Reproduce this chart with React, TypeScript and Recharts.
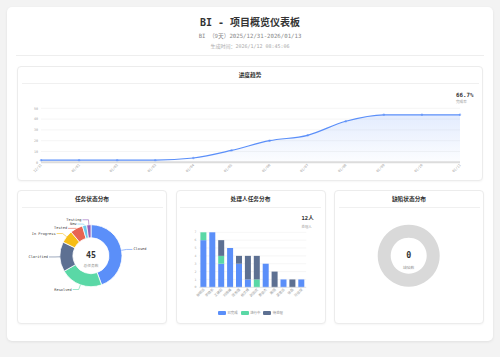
import React from 'react';
import { AreaChart, Area, XAxis, YAxis, CartesianGrid, BarChart, Bar, PieChart, Pie, Cell } from 'recharts';

const FONT = "'DejaVu Sans Mono', 'Noto Sans CJK SC', monospace";

// ---- data ----
const trendDates = ['12/31', '01/01', '01/02', '01/03', '01/04', '01/05', '01/06', '01/07', '01/08', '01/09', '01/10', '01/11'];
const trendValues = [2, 2, 2, 2, 4, 11, 20, 25, 38, 44, 44, 44];
const trendTicks = [0, 10, 20, 30, 40, 50];
const completionRate = '66.7%';

const statusNames = ['Closed', 'Resolved', 'Clarified', 'In Progress', 'Tested', 'New', 'Testing'];
const statusValues = [20, 10, 7, 3, 3, 1, 1];
const statusColors = ['#5b8ff9', '#5ad8a6', '#5d7092', '#f6bd16', '#e86452', '#6dc8ec', '#945fb9'];

const assignees = ['张明远', '李晓东', '王建国', '刘海峰', '陈志强', '杨文博', '赵国庆', '黄俊杰', '周丽', '吴思远', '徐磊', '孙佳琪'];
const doneValues = [6, 7, 3, 5, 3, 1, 0, 3, 0, 1, 0, 1];
const doingValues = [1, 0, 1, 0, 0, 0, 1, 0, 0, 0, 0, 0];
const todoValues = [0, 0, 2, 0, 1, 3, 3, 0, 2, 0, 1, 0];
const barTicks = [0, 1, 2, 3, 4, 5, 6, 7];
const seriesKeys = ['done', 'doing', 'todo'];
const seriesNames = ['已完成', '进行中', '待处理'];
const seriesColors = ['#5b8ff9', '#5ad8a6', '#5d7092'];

const defectNames: string[] = [];
const defectValues: number[] = [];

// ---- derived tables ----
const trendData = trendDates.map((d, i) => ({ date: d, value: trendValues[i] }));
const statusData = statusNames.map((n, i) => ({ name: n, value: statusValues[i] }));
const barData = assignees.map((n, i) => ({ name: n, done: doneValues[i], doing: doingValues[i], todo: todoValues[i] }));
const statusTotal = statusValues.reduce((a, b) => a + b, 0);
const defectTotal = defectValues.reduce((a, b) => a + b, 0);
const defectData = defectTotal > 0
  ? defectNames.map((n, i) => ({ name: n, value: defectValues[i] }))
  : [{ name: 'empty', value: 1 }];

// ---- pie label layout ----
const PIE_CX = 74, PIE_CY = 65.7, PIE_IR = 18, PIE_OR = 31;
function layoutLabels() {
  let acc = 0;
  const items = statusValues.map((v, i) => {
    const mid = ((acc + v / 2) / statusTotal) * 2 * Math.PI;
    acc += v;
    const s = Math.sin(mid), c = Math.cos(mid);
    return {
      i,
      sx: PIE_CX + PIE_OR * s,
      sy: PIE_CY - PIE_OR * c,
      ex: PIE_CX + (PIE_OR + 5) * s,
      ey: PIE_CY - (PIE_OR + 5) * c,
      right: s >= 0,
    };
  });
  [true, false].forEach((side) => {
    const list = items.filter((it) => it.right === side).sort((a, b) => a.ey - b.ey);
    for (let k = 1; k < list.length; k++) {
      if (list[k].ey < list[k - 1].ey + 4.3) list[k].ey = list[k - 1].ey + 4.3;
    }
  });
  return items;
}
const labelLayout = layoutLabels();

const renderPieLabel = (props: any) => {
  const it = labelLayout[props.index];
  if (!it) return null;
  const hx = it.right ? it.ex + 6 : it.ex - 6;
  const color = statusColors[props.index];
  return (
    <g key={`lbl-${props.index}`}>
      <polyline
        points={`${it.sx},${it.sy} ${it.ex},${it.ey} ${hx},${it.ey}`}
        fill="none"
        stroke={color}
        strokeWidth={0.6}
      />
      <text
        x={it.right ? hx + 1 : hx - 1}
        y={it.ey}
        textAnchor={it.right ? 'start' : 'end'}
        dominantBaseline="central"
        fontSize={3.6}
        fill="#444"
        fontFamily={FONT}
      >
        {statusNames[props.index]}
      </text>
    </g>
  );
};

const RotTick = (props: any) => {
  const { x, y, payload } = props;
  return (
    <g transform={`translate(${x},${y})`}>
      <text x={0} y={0} dy={1.5} textAnchor="end" fill="#999" fontSize={3.4} fontFamily={FONT} transform="rotate(-45)">
        {payload.value}
      </text>
    </g>
  );
};

// ---- layout helpers ----
const Txt = ({ cx, cy, w, size, color, bold, children, align }: any) => (
  <div
    style={{
      position: 'absolute',
      left: align === 'left' ? cx : cx - w / 2,
      top: cy - size * 0.7,
      width: w,
      height: size * 1.4,
      lineHeight: `${size * 1.4}px`,
      fontSize: size,
      color,
      fontWeight: bold ? 700 : 400,
      textAlign: align === 'left' ? 'left' : 'center',
      whiteSpace: 'nowrap',
    }}
  >
    {children}
  </div>
);

const Card = ({ left, top, width, height, title }: any) => (
  <>
    <div
      style={{
        position: 'absolute',
        left,
        top,
        width,
        height,
        boxSizing: 'border-box',
        border: '1px solid #ececec',
        borderRadius: 4,
        background: '#fff',
        boxShadow: '0 1px 2px rgba(0,0,0,0.04)',
      }}
    />
    <Txt cx={left + width / 2} cy={top + 10} w={width} size={5.7} color="#333" bold>
      {title}
    </Txt>
    <div style={{ position: 'absolute', left: left + 4.5, top: top + 16.5, width: width - 9, height: 0.8, background: '#f0f0f0' }} />
  </>
);

export default function App() {
  return (
    <div
      style={{
        position: 'absolute',
        left: 0,
        top: 0,
        width: 500,
        height: 357,
        background: '#f3f3f3',
        fontFamily: FONT,
        overflow: 'hidden',
      }}
    >
      <div
        style={{
          position: 'absolute',
          left: 7,
          top: 7,
          width: 486,
          height: 334,
          background: '#fff',
          borderRadius: 5,
          boxShadow: '0 1px 3px rgba(0,0,0,0.08)',
        }}
      />
      <Txt cx={250} cy={23.3} w={400} size={10} color="#333" bold>
        BI - 项目概览仪表板
      </Txt>
      <Txt cx={250} cy={37.3} w={400} size={5.7} color="#888">
        BI （9天）2025/12/31-2026/01/13
      </Txt>
      <Txt cx={250} cy={46.3} w={400} size={5} color="#aaa">
        生成时间：2026/1/12 08:45:06
      </Txt>
      <div style={{ position: 'absolute', left: 16, top: 54.5, width: 468, height: 1.6, background: '#eeeeee' }} />

      {/* progress trend */}
      <Card left={17} top={66} width={466} height={115} title="进度趋势" />
      <Txt cx={456} cy={94.7} w={40} size={5.8} color="#333" bold align="left">
        {completionRate}
      </Txt>
      <Txt cx={456} cy={102.7} w={40} size={3.6} color="#999" align="left">
        完成率
      </Txt>
      <div style={{ position: 'absolute', left: 17, top: 66 }}>
        <AreaChart width={466} height={115} data={trendData} margin={{ top: 42.3, right: 23, bottom: 0.7, left: 0 }}>
          <defs>
            <linearGradient id="trendFill" x1="0" y1="0" x2="0" y2="1">
              <stop offset="0%" stopColor="#5b8ff9" stopOpacity={0.28} />
              <stop offset="100%" stopColor="#5b8ff9" stopOpacity={0.03} />
            </linearGradient>
          </defs>
          <CartesianGrid vertical={false} stroke="#f2f2f2" strokeWidth={0.8} />
          <XAxis
            dataKey="date"
            height={18}
            interval={0}
            tickLine={false}
            tickSize={0}
            tickMargin={2}
            axisLine={{ stroke: '#dcdcdc', strokeWidth: 2 }}
            tick={<RotTick />}
          />
          <YAxis
            width={24}
            domain={[0, 50]}
            ticks={trendTicks}
            interval={0}
            tickLine={false}
            axisLine={false}
            tickSize={2}
            tickMargin={1}
            tick={{ fontSize: 3.4, fill: '#aaa', fontFamily: FONT }}
          />
          <Area
            type="monotone"
            dataKey="value"
            stroke="#5b8ff9"
            strokeWidth={1.2}
            fill="url(#trendFill)"
            dot={{ r: 1.2, fill: '#5b8ff9', stroke: '#5b8ff9', strokeWidth: 0 }}
            activeDot={false}
            isAnimationActive={false}
          />
        </AreaChart>
      </div>

      {/* task status pie */}
      <Card left={17} top={190} width={150} height={134} title="任务状态分布" />
      <div style={{ position: 'absolute', left: 17, top: 190 }}>
        <PieChart width={150} height={134} margin={{ top: 0, right: 0, bottom: 0, left: 0 }}>
          <Pie
            data={statusData}
            dataKey="value"
            nameKey="name"
            cx={PIE_CX}
            cy={PIE_CY}
            innerRadius={PIE_IR}
            outerRadius={PIE_OR}
            startAngle={90}
            endAngle={-270}
            stroke="#fff"
            strokeWidth={0.8}
            label={renderPieLabel}
            labelLine={false}
            isAnimationActive={false}
          >
            {statusData.map((d, i) => (
              <Cell key={d.name} fill={statusColors[i]} />
            ))}
          </Pie>
        </PieChart>
      </div>
      <Txt cx={91} cy={255.7} w={40} size={8.3} color="#333" bold>
        {statusTotal}
      </Txt>
      <Txt cx={91} cy={266.3} w={40} size={3.75} color="#999">
        总任务数
      </Txt>

      {/* assignee bar chart */}
      <Card left={175.5} top={190} width={150} height={134} title="处理人任务分布" />
      <Txt cx={301.5} cy={219} w={30} size={5.5} color="#333" bold align="left">
        {assignees.length}人
      </Txt>
      <Txt cx={301.5} cy={227.7} w={30} size={3.4} color="#999" align="left">
        处理人
      </Txt>
      <div style={{ position: 'absolute', left: 175.5, top: 190 }}>
        <BarChart width={150} height={134} data={barData} margin={{ top: 42.3, right: 19.8, bottom: 16.7, left: 0 }} barSize={6}>
          <CartesianGrid vertical={false} stroke="#f0f0f0" strokeWidth={0.6} />
          <XAxis
            dataKey="name"
            height={20}
            interval={0}
            tickLine={false}
            tickSize={0}
            tickMargin={1.5}
            axisLine={{ stroke: '#e0e0e0', strokeWidth: 0.8 }}
            tick={<RotTick />}
          />
          <YAxis
            width={23.4}
            domain={[0, 7]}
            ticks={barTicks}
            interval={0}
            tickLine={false}
            axisLine={false}
            tickSize={2}
            tickMargin={1}
            tick={{ fontSize: 3.2, fill: '#aaa', fontFamily: FONT }}
          />
          {seriesKeys.map((k, i) => (
            <Bar key={k} dataKey={k} name={seriesNames[i]} stackId="a" fill={seriesColors[i]} isAnimationActive={false} />
          ))}
        </BarChart>
      </div>
      <div
        style={{
          position: 'absolute',
          left: 175.5,
          top: 310,
          width: 150,
          height: 6,
          display: 'flex',
          justifyContent: 'center',
          alignItems: 'center',
          gap: 3,
        }}
      >
        {seriesNames.map((n, i) => (
          <div key={n} style={{ display: 'flex', alignItems: 'center', gap: 1.5 }}>
            <div style={{ width: 8, height: 4.3, borderRadius: 1, background: seriesColors[i] }} />
            <span style={{ fontSize: 3.4, color: '#888', lineHeight: '6px' }}>{n}</span>
          </div>
        ))}
      </div>

      {/* defect pie */}
      <Card left={334} top={190} width={150} height={134} title="缺陷状态分布" />
      <div style={{ position: 'absolute', left: 334, top: 190 }}>
        <PieChart width={150} height={134} margin={{ top: 0, right: 0, bottom: 0, left: 0 }}>
          <Pie
            data={defectData}
            dataKey="value"
            nameKey="name"
            cx={74.7}
            cy={PIE_CY}
            innerRadius={PIE_IR}
            outerRadius={PIE_OR}
            startAngle={90}
            endAngle={-270}
            stroke="none"
            isAnimationActive={false}
          >
            {defectData.map((d) => (
              <Cell key={d.name} fill="#d9d9d9" />
            ))}
          </Pie>
        </PieChart>
      </div>
      <Txt cx={408.7} cy={255.7} w={40} size={8.3} color="#333" bold>
        {defectTotal}
      </Txt>
      <Txt cx={408.7} cy={267.3} w={40} size={3.8} color="#999">
        缺陷数
      </Txt>
    </div>
  );
}
